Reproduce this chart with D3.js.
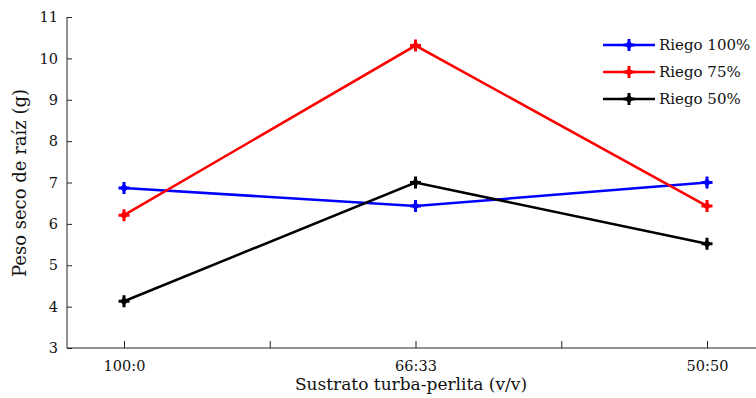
<!DOCTYPE html>
<html>
<head>
<meta charset="utf-8">
<script src="https://d3js.org/d3.v7.min.js"></script>
<style>
  body { margin: 0; background: #fff; }
  text { font-family: "DejaVu Serif", "Liberation Serif", serif; }
</style>
</head>
<body>
<div id="chart"></div>
<script>
// datos
const categorias = ['100:0', '66:33', '50:50'];
const riego100 = [6.87, 6.43, 7.0];
const riego75 = [6.21, 10.31, 6.43];
const riego50 = [4.13, 7.0, 5.52];
const series = [
    { nombre: 'Riego 100%', valores: riego100, color: '#0000ff' },
    { nombre: 'Riego 75%', valores: riego75, color: '#ff0000' },
    { nombre: 'Riego 50%', valores: riego50, color: '#000000' }
];
const yTicks = [3, 4, 5, 6, 7, 8, 9, 10, 11];
const xTicks = [1, 1.5, 2, 2.5, 3];

const width = 756;
const height = 398;

const svg = d3.select('#chart')
    .append('svg')
    .attr('width', width)
    .attr('height', height);

// escalas
const x = d3.scaleLinear().domain([1, 3]).range([124, 707]);
const y = d3.scaleLinear().domain([3, 11]).range([348, 17]);

// ejes
const ejeY = svg.append('g')
    .attr('transform', 'translate(67,0)')
    .call(d3.axisLeft(y).tickValues(yTicks).tickSize(-5).tickPadding(9));
ejeY.select('.domain').attr('d', `M0,${y(11)}V${y(3)}`);

const ejeX = svg.append('g')
    .attr('transform', 'translate(0,348)')
    .call(d3.axisBottom(x).tickValues(xTicks).tickSize(-7).tickPadding(13)
        .tickFormat(d => Number.isInteger(d) ? categorias[d - 1] : ''));
ejeX.select('.domain').attr('d', `M67,0H${width}`);

svg.selectAll('.tick text')
    .attr('font-size', 14.5)
    .attr('font-family', '"DejaVu Serif", serif')
    .attr('fill', '#111');
svg.selectAll('.domain, .tick line').attr('stroke', '#222');

// etiquetas
svg.append('text')
    .attr('transform', 'translate(26,183) rotate(-90)')
    .attr('text-anchor', 'middle')
    .attr('font-size', 18)
    .attr('fill', '#111')
    .text('Peso seco de raíz (g)');

svg.append('text')
    .attr('x', 411)
    .attr('y', 390)
    .attr('text-anchor', 'middle')
    .attr('font-size', 17)
    .attr('fill', '#111')
    .text('Sustrato turba-perlita (v/v)');

// marcador
function marcador(g, cx, cy, color) {
    g.append('path')
        .attr('d', `M${cx - 5.5},${cy}H${cx + 5.5}M${cx},${cy - 6}V${cy + 6}`)
        .attr('stroke', color)
        .attr('stroke-width', 3);
    g.append('path')
        .attr('d', `M${cx},${cy - 4.5}L${cx + 4},${cy}L${cx},${cy + 4.5}L${cx - 4},${cy}Z`)
        .attr('fill', color);
}

const linea = d3.line()
    .x((d, i) => x(i + 1))
    .y(d => y(d));

series.forEach(s => {
    const g = svg.append('g');
    g.append('path')
        .datum(s.valores)
        .attr('d', linea)
        .attr('fill', 'none')
        .attr('stroke', s.color)
        .attr('stroke-width', 2.5);
    s.valores.forEach((v, i) => marcador(g, x(i + 1), y(v), s.color));
});

// leyenda
series.forEach((s, i) => {
    const ly = 45 + i * 27;
    const g = svg.append('g');
    g.append('line')
        .attr('x1', 603).attr('x2', 655)
        .attr('y1', ly).attr('y2', ly)
        .attr('stroke', s.color)
        .attr('stroke-width', 2.5);
    marcador(g, 629, ly, s.color);
    g.append('text')
        .attr('x', 659)
        .attr('y', ly + 5)
        .attr('font-size', 15)
        .attr('fill', '#111')
        .text(s.nombre);
});
</script>
</body>
</html>
